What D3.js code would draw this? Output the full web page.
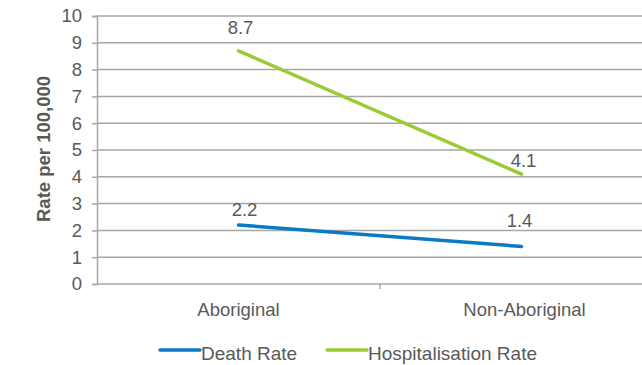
<!DOCTYPE html>
<html>
<head>
<meta charset="utf-8">
<script src="https://cdn.jsdelivr.net/npm/d3@7"></script>
<style>
  html, body { margin: 0; padding: 0; background: #fff; }
  svg { display: block; font-family: "Liberation Sans", Arial, sans-serif; }
</style>
</head>
<body>
<svg id="chart" width="642" height="365"></svg>
<script>
// Rates per 100,000 by population group
const categories = ["Aboriginal", "Non-Aboriginal"];
const deathRate = [2.2, 1.4];
const hospRate = [8.7, 4.1];
const yTicks = [0, 1, 2, 3, 4, 5, 6, 7, 8, 9, 10];
const seriesNames = ["Death Rate", "Hospitalisation Rate"];
const seriesColors = ["#0a7ac6", "#9acb34"];

const svg = d3.select("#chart");
const textColor = "#595959";
const gridColor = "#a6a6a6";
const fontSize = 18.5;
const legendFontSize = 19;

const plotLeft = 97, plotTop = 16, plotW = 566, plotH = 268;

const x = d3.scaleBand().domain(categories).range([plotLeft, plotLeft + plotW]);
const y = d3.scaleLinear().domain([0, 10]).range([plotTop + plotH, plotTop]);

svg.append("defs").append("clipPath").attr("id", "clip")
  .append("rect").attr("x", 0).attr("y", 0).attr("width", 642).attr("height", 365);

const g = svg.append("g").attr("clip-path", "url(#clip)");

// Horizontal gridlines
g.append("g").selectAll("line").data(yTicks.filter(d => d > 0)).join("line")
  .attr("x1", plotLeft).attr("x2", plotLeft + plotW)
  .attr("y1", d => y(d)).attr("y2", d => y(d))
  .attr("stroke", gridColor).attr("stroke-width", 1.5);

// Y axis
const yAxis = g.append("g").attr("transform", `translate(${plotLeft},0)`)
  .call(d3.axisLeft(y).tickValues(yTicks).tickSize(5).tickPadding(10).tickFormat(d3.format("d")));
yAxis.select(".domain").attr("stroke", gridColor).attr("stroke-width", 1.5);
yAxis.selectAll(".tick line").attr("stroke", gridColor).attr("stroke-width", 1.5);
yAxis.selectAll(".tick text").attr("fill", textColor).attr("font-size", fontSize)
  .attr("font-family", "Liberation Sans, Arial, sans-serif");

// X axis with boundary ticks between categories
const xAxisG = g.append("g").attr("transform", `translate(0,${plotTop + plotH})`);
xAxisG.append("line").attr("x1", plotLeft).attr("x2", plotLeft + plotW)
  .attr("stroke", gridColor).attr("stroke-width", 1.5);
xAxisG.selectAll("line.bt").data(categories.slice(1)).join("line").attr("class", "bt")
  .attr("x1", d => x(d)).attr("x2", d => x(d)).attr("y1", 0).attr("y2", 5)
  .attr("stroke", gridColor).attr("stroke-width", 1.5);
xAxisG.selectAll("text").data(categories).join("text")
  .attr("x", (d, i) => x(d) + x.bandwidth() / 2 + (i ? 3 : 0)).attr("y", 32)
  .attr("text-anchor", "middle").attr("fill", textColor).attr("font-size", fontSize)
  .text(d => d);

// Y axis title
svg.append("text")
  .attr("transform", `translate(50,149) rotate(-90)`)
  .attr("text-anchor", "middle").attr("fill", textColor)
  .attr("font-size", fontSize).attr("font-weight", "bold")
  .text("Rate per 100,000");

// Lines
const series = [deathRate, hospRate];
const line = d3.line().x((d, i) => x(categories[i]) + x.bandwidth() / 2).y(d => y(d));
series.forEach((s, k) => {
  g.append("path").datum(s).attr("d", line)
    .attr("fill", "none").attr("stroke", seriesColors[k])
    .attr("stroke-width", 3.5).attr("stroke-linecap", "round");
});

// Data labels (offset above each point)
const labelDy = [[-9, -19], [-17, -7]];
const labelDx = [[6, -2], [2, 2]];
series.forEach((s, k) => {
  g.append("g").selectAll("text").data(s).join("text")
    .attr("x", (d, i) => x(categories[i]) + x.bandwidth() / 2 + labelDx[k][i])
    .attr("y", (d, i) => y(d) + labelDy[k][i])
    .attr("text-anchor", "middle").attr("fill", textColor).attr("font-size", fontSize)
    .text(d => d3.format(".1f")(d));
});

// Legend
const legendY = 350;
const legendX = [160, 327];
seriesNames.forEach((name, k) => {
  const lg = svg.append("g").attr("transform", `translate(${legendX[k]},${legendY})`);
  lg.append("line").attr("x1", 0).attr("x2", 40).attr("y1", 0).attr("y2", 0)
    .attr("stroke", seriesColors[k]).attr("stroke-width", 3.5).attr("stroke-linecap", "round");
  lg.append("text").attr("x", 41).attr("y", 10)
    .attr("fill", textColor).attr("font-size", legendFontSize).text(name);
});
</script>
</body>
</html>
